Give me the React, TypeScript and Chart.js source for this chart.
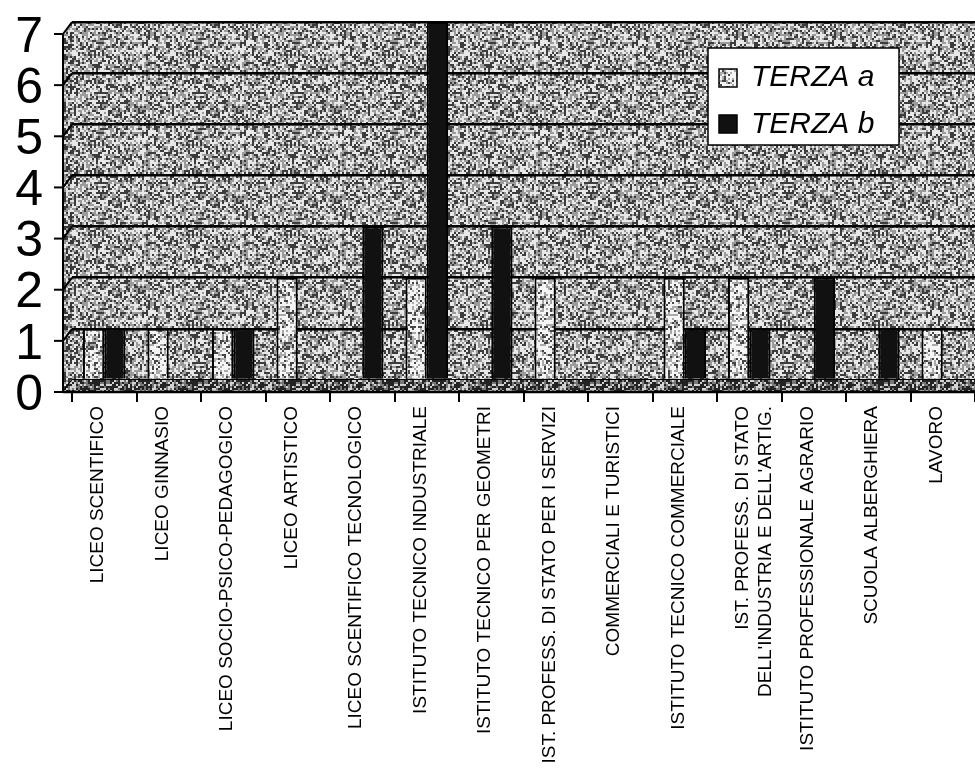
import React, { useEffect, useRef } from "react";
import { Chart, registerables } from "chart.js";

Chart.register(...registerables);

const categories: (string | string[])[] = [
  "LICEO SCENTIFICO",
  "LICEO GINNASIO",
  "LICEO SOCIO-PSICO-PEDAGOGICO",
  "LICEO ARTISTICO",
  "LICEO SCENTIFICO TECNOLOGICO",
  "ISTITUTO TECNICO INDUSTRIALE",
  "ISTITUTO TECNICO PER GEOMETRI",
  "IST. PROFESS. DI STATO PER I SERVIZI",
  "COMMERCIALI E TURISTICI",
  "ISTITUTO TECNICO COMMERCIALE",
  ["IST. PROFESS. DI STATO", "DELL'INDUSTRIA E DELL'ARTIG."],
  "ISTITUTO PROFESSIONALE AGRARIO",
  "SCUOLA ALBERGHIERA",
  "LAVORO",
];
const seriesNames = ["TERZA a", "TERZA b"];
const terzaA = [1, 1, 1, 2, 0, 2, 0, 2, 0, 2, 2, 0, 0, 1];
const terzaB = [1, 0, 1, 0, 3, 7, 3, 0, 0, 1, 1, 2, 1, 0];
const yTicks = [0, 1, 2, 3, 4, 5, 6, 7];

const FONT = '"Liberation Sans", Arial, sans-serif';

function hash(x: number, y: number, seed: number): number {
  let h = (Math.imul(x, 374761393) + Math.imul(y, 668265263) + Math.imul(seed, 2246822519)) | 0;
  h = Math.imul(h ^ (h >>> 13), 1274126177);
  h = h ^ (h >>> 16);
  return (h >>> 0) / 4294967296;
}

function makePattern(
  ctx: CanvasRenderingContext2D,
  levels: [number, number][],
  seed: number
): CanvasPattern | string {
  const w = 98, h = 90, cell = 2;
  const c = document.createElement("canvas");
  c.width = w;
  c.height = h;
  const g = c.getContext("2d");
  if (!g) return "#999";
  for (let y = 0; y < h; y += cell) {
    for (let x = 0; x < w; x += cell) {
      const v = hash(x, y, seed);
      let lv = levels[levels.length - 1][1];
      for (const [p, l] of levels) {
        if (v < p) { lv = l; break; }
      }
      g.fillStyle = `rgb(${lv},${lv},${lv})`;
      g.fillRect(x, y, cell, cell);
    }
  }
  return ctx.createPattern(c, "repeat") || "#999";
}

export default function App() {
  const ref = useRef<HTMLCanvasElement>(null);

  useEffect(() => {
    const canvas = ref.current;
    if (!canvas) return;
    const ctx = canvas.getContext("2d")!;
    const wallPat = makePattern(ctx, [[0.28, 60], [0.6, 155], [1, 232]], 1);
    const sidePat = makePattern(ctx, [[0.34, 55], [0.64, 145], [1, 225]], 2);
    const floorPat = makePattern(ctx, [[0.5, 35], [0.75, 120], [1, 210]], 3);
    const barAPat = makePattern(ctx, [[0.18, 70], [0.47, 170], [1, 245]], 4);

    const dx = 9, dy = 12;

    const wall3d = {
      id: "wall3d",
      beforeDraw(chart: any) {
        const { ctx: c, chartArea } = chart;
        const { left, top, right, bottom } = chartArea;
        c.save();
        c.fillStyle = "#fff";
        c.fillRect(0, 0, chart.width, chart.height);
        c.fillStyle = wallPat;
        c.fillRect(left, top, right - left, bottom - top);
        c.restore();
      },
      beforeDatasetsDraw(chart: any) {
        const { ctx: c, chartArea, scales } = chart;
        const { left, top, right, bottom } = chartArea;
        const ys = scales.y;
        c.save();
        // left side wall
        c.beginPath();
        c.moveTo(left - dx, top + dy);
        c.lineTo(left, top);
        c.lineTo(left, bottom);
        c.lineTo(left - dx, bottom + dy);
        c.closePath();
        c.fillStyle = sidePat;
        c.fill();
        c.strokeStyle = "#000";
        c.lineWidth = 2;
        for (const t of ys.ticks) {
          const py = ys.getPixelForValue(t.value);
          c.beginPath();
          c.moveTo(left - dx, py + dy);
          c.lineTo(left, py);
          c.stroke();
          c.beginPath();
          c.moveTo(left - dx - 9, py + dy);
          c.lineTo(left - dx, py + dy);
          c.stroke();
        }
        c.beginPath();
        c.moveTo(left - dx, top + dy);
        c.lineTo(left - dx, bottom + dy);
        c.stroke();
        // floor
        c.beginPath();
        c.moveTo(left, bottom);
        c.lineTo(right, bottom);
        c.lineTo(right, bottom + dy);
        c.lineTo(left - dx, bottom + dy);
        c.closePath();
        c.fillStyle = floorPat;
        c.fill();
        c.lineWidth = 2.5;
        c.beginPath();
        c.moveTo(left - dx, bottom + dy);
        c.lineTo(right, bottom + dy);
        c.stroke();
        c.restore();
      },
    };

    const boxLegend = {
      id: "boxLegend",
      afterDraw(chart: any) {
        const c = chart.ctx;
        const { right } = chart.chartArea;
        const bx = right - 267, by = 48, bw = 191, bh = 97;
        c.save();
        c.fillStyle = "#fff";
        c.fillRect(bx, by, bw, bh);
        c.strokeStyle = "#000";
        c.lineWidth = 1.5;
        c.strokeRect(bx, by, bw, bh);
        chart.data.datasets.forEach((ds: any, i: number) => {
          const iy = by + 21 + i * 46;
          c.fillStyle = ds.backgroundColor;
          c.fillRect(bx + 11, iy, 18, 18);
          c.strokeStyle = "#000";
          c.lineWidth = 1.5;
          c.strokeRect(bx + 11, iy, 18, 18);
          c.fillStyle = "#000";
          c.font = `italic 30px ${FONT}`;
          c.textBaseline = "alphabetic";
          c.textAlign = "left";
          c.fillText(ds.label, bx + 43, by + 38 + i * 47);
        });
        c.restore();
      },
    };

    const chart = new Chart(canvas, {
      type: "bar",
      data: {
        labels: categories,
        datasets: [
          {
            label: seriesNames[0],
            data: terzaA,
            backgroundColor: barAPat as any,
            borderColor: "#000",
            borderWidth: 2,
            categoryPercentage: 0.66,
            barPercentage: 1,
          },
          {
            label: seriesNames[1],
            data: terzaB,
            backgroundColor: "#111",
            borderColor: "#000",
            borderWidth: 2,
            categoryPercentage: 0.66,
            barPercentage: 1,
          },
        ],
      },
      options: {
        animation: false,
        responsive: false,
        layout: { padding: { left: 15, right: 0, top: 22, bottom: 0 } },
        plugins: { legend: { display: false }, tooltip: { enabled: false } },
        scales: {
          x: {
            grid: {
              display: true,
              drawOnChartArea: false,
              drawTicks: true,
              tickLength: 22,
              color: "#000",
              lineWidth: 2,
            },
            border: { display: true, color: "#000", width: 2 },
            ticks: {
              autoSkip: false,
              minRotation: 90,
              maxRotation: 90,
              padding: 4,
              labelOffset: -6,
              color: "#000",
              font: { family: FONT, size: 19 },
            },
            afterFit(scale: any) {
              scale.height = 776 - 380;
              scale.paddingLeft = 0;
              scale.paddingRight = 0;
            },
          },
          y: {
            min: 0,
            max: 7,
            afterBuildTicks(scale: any) {
              scale.ticks = yTicks.map((v) => ({ value: v }));
            },
            ticks: {
              autoSkip: false,
              padding: 15,
              labelOffset: 16,
              color: "#000",
              font: { family: FONT, size: 50 },
            },
            grid: {
              color: "#000",
              lineWidth: 2.5,
              drawTicks: true,
              tickLength: 14,
              tickColor: "rgba(0,0,0,0)",
            },
            border: { display: false },
            afterFit(scale: any) {
              scale.width = 57;
              scale.paddingTop = 0;
              scale.paddingBottom = 0;
            },
          },
        },
      },
      plugins: [wall3d, boxLegend],
    });
    return () => chart.destroy();
  }, []);

  return (
    <div
      style={{
        position: "absolute",
        left: 0,
        top: 0,
        width: 975,
        height: 776,
        background: "#fff",
        overflow: "hidden",
      }}
    >
      <canvas ref={ref} width={975} height={776} style={{ display: "block" }} />
    </div>
  );
}
